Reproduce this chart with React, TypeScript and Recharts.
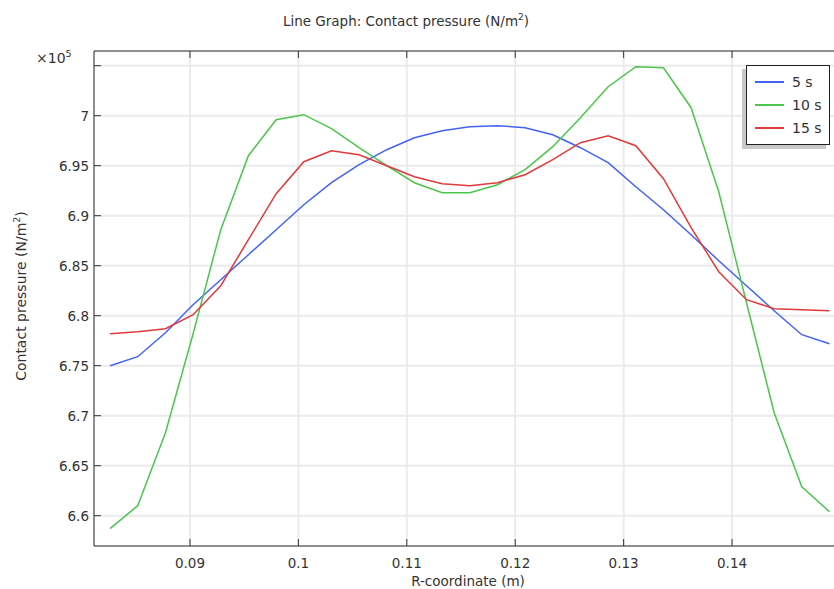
import React from 'react';
import { LineChart, Line, XAxis, YAxis, CartesianGrid } from 'recharts';

// R-coordinate (m)
const rCoord = [
  0.08263, 0.08518, 0.08774, 0.09029, 0.09284, 0.09539, 0.09795, 0.1005, 0.10305,
  0.1056, 0.10815, 0.1107, 0.11326, 0.11581, 0.11836, 0.12091, 0.12346, 0.12601,
  0.12857, 0.13112, 0.13367, 0.13622, 0.13877, 0.14133, 0.14388, 0.14643, 0.14898,
];

// contact pressure, x10^5 N/m^2
const p5 = [
  6.750, 6.759, 6.783, 6.811, 6.836, 6.861, 6.886, 6.911, 6.933, 6.951, 6.966, 6.978,
  6.985, 6.989, 6.990, 6.988, 6.981, 6.968, 6.953, 6.929, 6.906, 6.881, 6.855, 6.830,
  6.805, 6.781, 6.772,
];
const p10 = [
  6.587, 6.610, 6.683, 6.782, 6.886, 6.960, 6.996, 7.001, 6.987, 6.968, 6.950, 6.933,
  6.923, 6.923, 6.931, 6.946, 6.969, 6.998, 7.029, 7.049, 7.048, 7.008, 6.924, 6.813,
  6.703, 6.629, 6.604,
];
const p15 = [
  6.782, 6.784, 6.787, 6.801, 6.830, 6.876, 6.922, 6.954, 6.965, 6.961, 6.950, 6.939,
  6.932, 6.930, 6.933, 6.941, 6.956, 6.973, 6.980, 6.970, 6.937, 6.888, 6.844, 6.816,
  6.807, 6.806, 6.805,
];

const xTicks = [0.09, 0.1, 0.11, 0.12, 0.13, 0.14];
const yTicks = [6.6, 6.65, 6.7, 6.75, 6.8, 6.85, 6.9, 6.95, 7, 7.05];
const hiddenYLabels = [7.05];

const seriesKeys = ['s5', 's10', 's15'];
const seriesNames = ['5 s', '10 s', '15 s'];
const seriesColors = ['#4263f2', '#4cc64c', '#e03a3a'];

const data = rCoord.map((r, i) => ({ r, s5: p5[i], s10: p10[i], s15: p15[i] }));

const FONT = '"DejaVu Sans", sans-serif';
const TEXT = '#333';
const AXIS = '#333';

const BottomTick = (props: any) => {
  const { x, y, payload } = props;
  return (
    <g>
      <line x1={x} x2={x} y1={y} y2={y - 7} stroke={AXIS} strokeWidth={1} />
      <text x={x} y={y + 22} textAnchor="middle" fontFamily={FONT} fontSize={13.5} fill={TEXT}>
        {String(payload.value)}
      </text>
    </g>
  );
};

const TopTick = (props: any) => {
  const { x, y } = props;
  return <line x1={x} x2={x} y1={y} y2={y + 7} stroke={AXIS} strokeWidth={1} />;
};

const LeftTick = (props: any) => {
  const { x, y, payload } = props;
  const show = !hiddenYLabels.includes(payload.value);
  return (
    <g>
      <line x1={x} x2={x + 7} y1={y} y2={y} stroke={AXIS} strokeWidth={1} />
      {show && (
        <text x={x - 5} y={y + 5} textAnchor="end" fontFamily={FONT} fontSize={13.5} fill={TEXT}>
          {String(payload.value)}
        </text>
      )}
    </g>
  );
};

// legend drawn as plain html so it takes no room from the plot
const LegendBox = () => (
  <div
    style={{
      position: 'absolute',
      left: 746,
      top: 65,
      width: 84,
      height: 80,
      border: '1px solid #222',
      background: '#fff',
      boxShadow: '-4px 4px 0 #c8c8c8',
      paddingTop: 5,
      boxSizing: 'border-box',
      fontFamily: FONT,
      fontSize: 14,
      color: TEXT,
    }}
  >
    {seriesNames.map((name, i) => (
      <div key={name} style={{ display: 'flex', alignItems: 'center', height: 22.7 }}>
        <div style={{ width: 29, height: 2, background: seriesColors[i], marginLeft: 8, marginRight: 8 }} />
        <span>{name}</span>
      </div>
    ))}
  </div>
);

export default function App() {
  return (
    <div
      style={{
        position: 'fixed',
        left: 0,
        top: 0,
        width: 834,
        height: 589,
        overflow: 'hidden',
        background: '#fff',
      }}
    >
      <div
        style={{
          position: 'absolute',
          left: 0,
          width: 812,
          top: 12,
          textAlign: 'center',
          fontFamily: FONT,
          fontSize: 13.5,
          color: TEXT,
        }}
      >
        Line Graph: Contact pressure (N/m<sup style={{ fontSize: 9 }}>2</sup>)
      </div>
      <div
        style={{
          position: 'absolute',
          left: 36,
          top: 48,
          fontFamily: FONT,
          fontSize: 14,
          color: TEXT,
        }}
      >
        ×10<sup style={{ fontSize: 9.5 }}>5</sup>
      </div>
      <div
        style={{
          position: 'absolute',
          left: 20,
          top: 296,
          transform: 'translate(-50%, -50%) rotate(-90deg)',
          whiteSpace: 'nowrap',
          fontFamily: FONT,
          fontSize: 14,
          color: TEXT,
        }}
      >
        Contact pressure (N/m<sup style={{ fontSize: 9.5 }}>2</sup>)
      </div>
      <div
        style={{
          position: 'absolute',
          left: 468,
          top: 573,
          transform: 'translateX(-50%)',
          whiteSpace: 'nowrap',
          fontFamily: FONT,
          fontSize: 13.5,
          color: TEXT,
        }}
      >
        R-coordinate (m)
      </div>
      <LineChart
        width={850}
        height={589}
        data={data}
        margin={{ top: 40, right: 9.5, bottom: 0, left: 0 }}
      >
        <CartesianGrid stroke="#ebebeb" strokeWidth={2} />
        <XAxis
          type="number"
          dataKey="r"
          domain={[0.08115, 0.15]}
          ticks={xTicks}
          allowDataOverflow
          height={43}
          axisLine={{ stroke: AXIS }}
          tickLine={false}
          tickSize={0}
          tickMargin={0}
          tick={<BottomTick />}
          interval={0}
        />
        <XAxis
          xAxisId="top"
          orientation="top"
          type="number"
          dataKey="r"
          domain={[0.08115, 0.15]}
          ticks={xTicks}
          allowDataOverflow
          height={11}
          axisLine={{ stroke: AXIS }}
          tickLine={false}
          tickSize={0}
          tickMargin={0}
          tick={<TopTick />}
          interval={0}
        />
        <YAxis
          type="number"
          domain={[6.5697, 7.0647]}
          ticks={yTicks}
          allowDataOverflow
          width={94}
          axisLine={{ stroke: AXIS }}
          tickLine={false}
          tickSize={0}
          tickMargin={0}
          tick={<LeftTick />}
          interval={0}
        />
        {seriesKeys.map((k, i) => (
          <Line
            key={k}
            dataKey={k}
            name={seriesNames[i]}
            stroke={seriesColors[i]}
            strokeWidth={1.5}
            dot={false}
            isAnimationActive={false}
          />
        ))}
      </LineChart>
      <LegendBox />
    </div>
  );
}
